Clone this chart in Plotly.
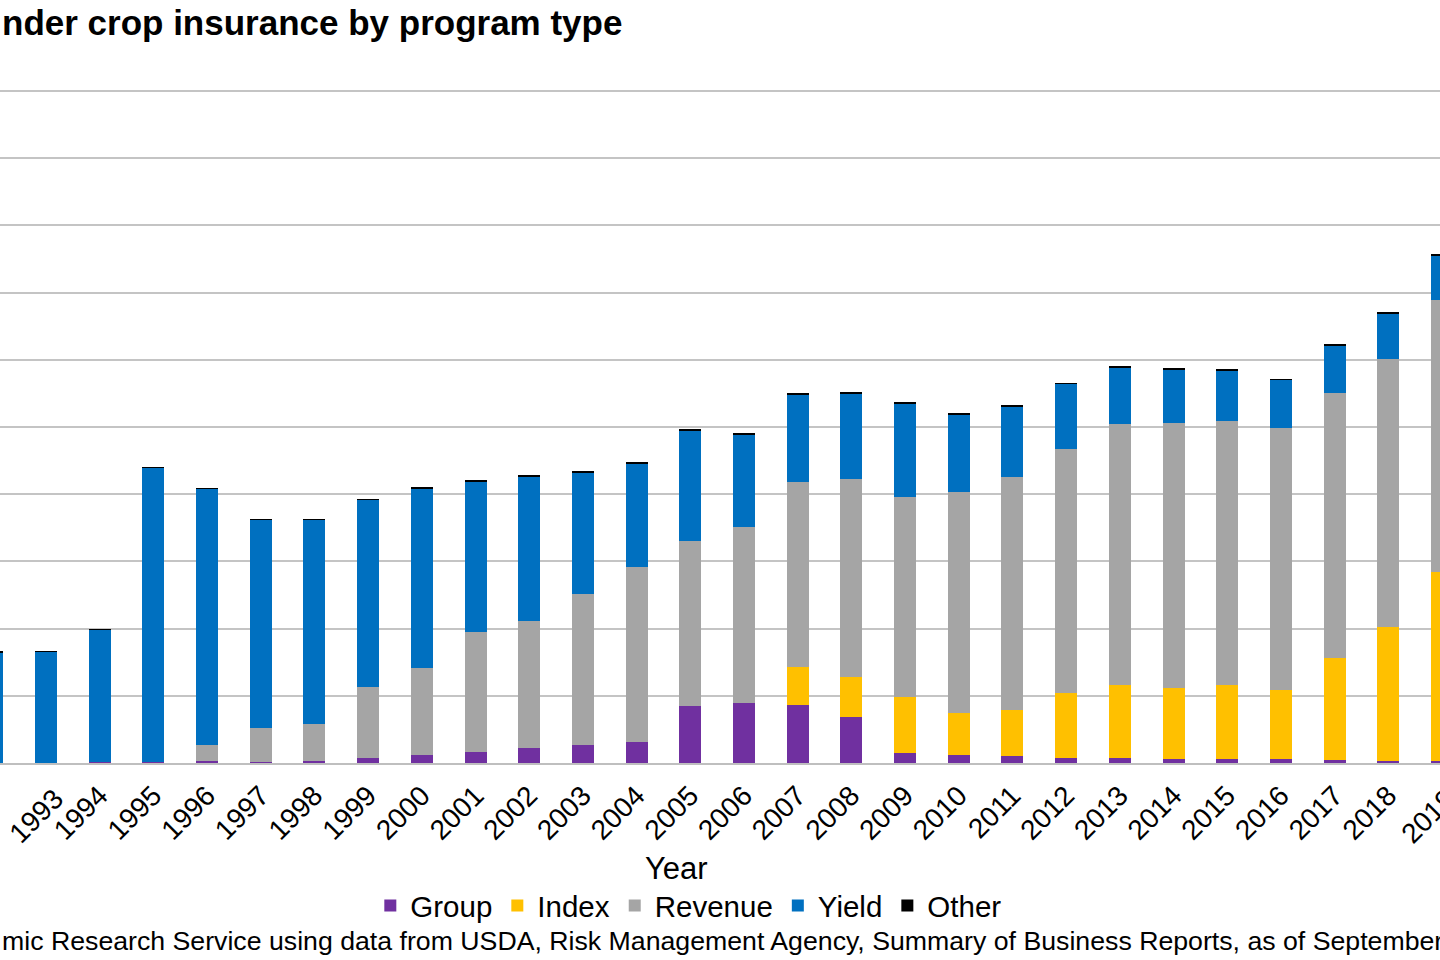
import plotly.graph_objects as go

# Acres (million) by program type
years = list(range(1992, 2020))
group = [0.0, 0.2, 1.0, 1.0, 1.7, 0.5, 1.7, 4.0, 5.7, 8.2, 11.4, 13.1, 15.6, 42.2,
         44.9, 42.9, 34.4, 7.7, 5.7, 5.1, 3.5, 3.8, 3.3, 2.8, 2.8, 2.0, 1.5, 1.5]
index = [0, 0, 0, 0, 0, 0, 0, 0, 0, 0, 0, 0, 0, 0,
         0, 28.8, 29.8, 41.4, 31.5, 34.3, 48.5, 54.1, 52.3, 55.1, 51.7, 75.9, 99.5, 140.5]
revenue = [0, 0, 0, 0, 11.7, 25.8, 27.3, 52.8, 65.2, 89.5, 94.5, 112.4, 130.0, 123.2,
           130.9, 137.6, 147.3, 148.6, 164.5, 173.6, 181.5, 194.0, 197.3, 196.6, 194.7, 197.4, 199.4, 202.8]
yld = [82.5, 82.8, 98.4, 218.7, 190.7, 154.8, 151.9, 138.9, 133.7, 112.1, 107.1, 90.3, 77.1, 82.1,
       68.5, 65.0, 63.2, 69.6, 57.5, 52.2, 48.6, 42.4, 40.1, 37.2, 35.9, 35.7, 34.2, 33.0]
other = [0.3, 0.3, 0.3, 0.3, 0.3, 0.4, 0.4, 0.5, 1.0, 1.0, 1.0, 1.0, 1.0, 1.0,
         1.0, 0.8, 0.8, 0.8, 0.6, 0.6, 0.5, 1.0, 0.5, 1.0, 0.5, 0.5, 0.5, 0.5]

series = [
    ("Group", group, "#7030A0"),
    ("Index", index, "#FFC000"),
    ("Revenue", revenue, "#A5A5A5"),
    ("Yield", yld, "#0070C0"),
    ("Other", other, "#000000"),
]

FONT = "Liberation Sans, Arial, sans-serif"

# the picture is a crop of a wider chart: 1992 and 2019 are cut at the edges
x_range = [1992.143, 2018.963]
y_range = [0, 501.5]

fig = go.Figure()
for name, vals, color in series:
    fig.add_trace(go.Bar(
        x=years, y=vals, name=name, width=0.41,
        marker=dict(color=color, line=dict(width=0)),
    ))

fig.update_layout(
    barmode="stack",
    width=1440, height=960,
    margin=dict(l=0, r=0, t=89, b=197),
    plot_bgcolor="white", paper_bgcolor="white",
    font=dict(family=FONT, color="black"),
    showlegend=True,
    legend=dict(
        orientation="h", traceorder="normal",
        x=0.478, xanchor="center", y=-0.212, yanchor="middle",
        font=dict(size=29.5), itemwidth=30,
    ),
    xaxis=dict(
        range=x_range, tickmode="array", tickvals=years,
        ticktext=[str(y) for y in years], tickangle=-45,
        tickfont=dict(size=28), ticklabelstandoff=3,
        showgrid=False, showline=True, linecolor="#bfbfbf", linewidth=2,
        ticks="",
    ),
    yaxis=dict(
        range=y_range, dtick=50, showticklabels=False,
        gridcolor="#c4c4c4", gridwidth=2,
        zeroline=False, showline=False,
    ),
)

# edge tick labels that plotly hides: 1993 (runs past the left edge) and 2019 (cut on the right)
px2019 = (2019 - x_range[0]) / (x_range[1] - x_range[0])
fig.add_annotation(x=px2019 + 0.015, y=-0.026, xref="paper", yref="paper",
                   text="2019", textangle=-45, showarrow=False,
                   xanchor="right", yanchor="top", font=dict(size=28))
fig.add_annotation(x=0, y=-0.026, xref="paper", yref="paper",
                   text="1993", textangle=-45, showarrow=False,
                   xanchor="left", yanchor="top", font=dict(size=28))

# title, axis title and source, as cut in the picture
fig.add_annotation(x=0, y=1.099, xref="paper", yref="paper", xanchor="left", yanchor="middle",
                   text="<b>nder crop insurance by program type</b>", showarrow=False,
                   font=dict(size=35))
fig.add_annotation(x=0.470, y=-0.156, xref="paper", yref="paper", xanchor="center", yanchor="middle",
                   text="Year", showarrow=False, font=dict(size=31))
fig.add_annotation(x=0, y=-0.264, xref="paper", yref="paper", xanchor="left", yanchor="middle",
                   text="mic Research Service using data from USDA, Risk Management Agency, "
                        "Summary of Business Reports, as of September",
                   showarrow=False, font=dict(size=26.7))

# drop the browser's default page margin so the figure sits at the window corner
fig.write_html("out.html", config={"displayModeBar": False},
               post_script="document.body.style.margin='0';document.body.style.overflow='hidden';")
